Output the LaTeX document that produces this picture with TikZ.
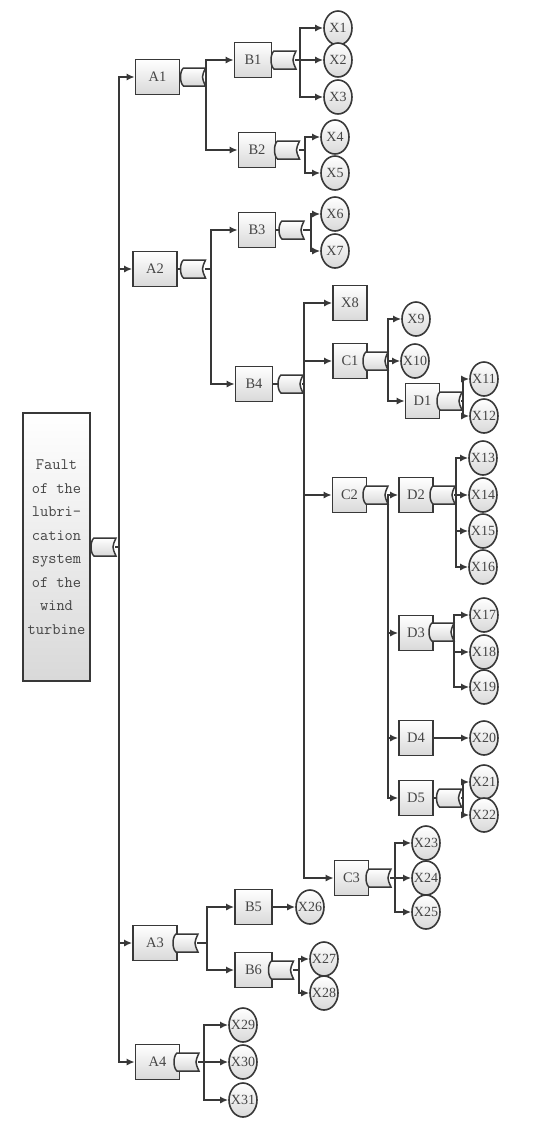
\documentclass[tikz,border=0pt]{standalone}
\usepackage{fontspec}
\setmainfont{Liberation Serif}
\usetikzlibrary{arrows.meta,shapes.geometric,calc}
\definecolor{lc}{HTML}{383838}
\definecolor{tx}{HTML}{454545}
\tikzset{
  lnst/.style={draw=lc, line width=1.6pt, line cap=rect},
  arr/.style={draw=lc, line width=1.6pt, -{Latex[length=8pt,width=7pt]}},
  shadefill/.style={top color=white, bottom color=black!15},
  box/.style={draw=lc, line width=1.6pt, shadefill, minimum height=35pt, inner sep=0pt,
              font=\fontsize{14.5}{14.5}\selectfont, text=tx},
  abox/.style={box, minimum width=44pt},
  bbox/.style={box, minimum width=37pt},
  cbox/.style={box, minimum width=34pt},
  xell/.style={ellipse, draw=lc, line width=1.6pt, shadefill, minimum width=28pt,
               minimum height=34pt, inner sep=0pt, font=\fontsize{14}{14}\selectfont, text=tx},
  rootbox/.style={draw=lc, line width=1.6pt, shadefill, minimum width=67pt, minimum height=268pt,
               inner sep=0pt, align=center, font=\fontsize{16}{23.5}\ttfamily, text=tx},
  gatenode/.style={inner sep=0pt, outer sep=0pt, minimum width=22pt, minimum height=18pt},
  gshade/.style={draw=lc, line width=1.5pt, shadefill}
}
\newcommand\xnode[3]{\node[xell] (#1) at (#2) {\makebox[0pt]{#3}};}
\newcommand\gnode[2]{\node[gatenode] (#1) at (#2) {};}
\newcommand\gshape[1]{\draw[gshade] (#1.north west) -- (#1.north east)
   .. controls ($(#1.east)+(-4,0)$) .. (#1.south east) -- (#1.south west)
   .. controls ($(#1.south west)+(-4,-3)$) and ($(#1.north west)+(-4,3)$) .. (#1.north west) -- cycle;}
\newcommand\hub[4]{\coordinate (bus#1) at (#2,0);
  \draw[lnst] (#1.east) -- (bus#1 |- #1.east);
  \draw[lnst] (bus#1 |- #3) -- (bus#1 |- #4);}
\newcommand\kids[2]{\foreach \k in {#2} {\draw[arr] (bus#1 |- \k) -- (\k.west);}}
\newcommand\feed[2]{\draw[lnst] (#1.east) -- (#2.west);}
\begin{document}
\begin{tikzpicture}[x=1pt,y=-1pt]
\useasboundingbox (0,0) rectangle (541,1133);
% root
\node[rootbox] (root) at (56.5,547) {Fault\\of the\\lubri-\\cation\\system\\of the\\wind\\turbine};
\gnode{g0}{105,547}
% A level
\node[abox] (A1) at (157.5,77) {A1};
\node[abox] (A2) at (155,269) {A2};
\node[abox] (A3) at (155,943) {A3};
\node[abox] (A4) at (157.5,1062) {A4};
\gnode{gA1}{194.5,77}
\gnode{gA2}{194.5,269}
\gnode{gA3}{187,943}
\gnode{gA4}{188,1062}
% B level
\node[bbox] (B1) at (253,60) {B1};
\node[bbox] (B2) at (257,150) {B2};
\node[bbox] (B3) at (257,230) {B3};
\node[bbox] (B4) at (254,384) {B4};
\node[bbox] (B5) at (253.5,907) {B5};
\node[bbox] (B6) at (253.5,970) {B6};
\gnode{gB1}{285,60}
\gnode{gB2}{288.5,150}
\gnode{gB3}{293,230}
\gnode{gB4}{292,384}
\gnode{gB6}{282.5,970}
% C level
\node[cbox] (X8) at (350,303) {X8};
\node[cbox] (C1) at (350,361) {C1};
\node[cbox] (C2) at (349.5,495) {C2};
\node[cbox] (C3) at (351.5,878) {C3};
\gnode{gC1}{377,361}
\gnode{gC2}{377,495}
\gnode{gC3}{380,878}
% D level
\node[cbox] (D1) at (422.5,401) {D1};
\node[cbox] (D2) at (416,495) {D2};
\node[cbox] (D3) at (416,633) {D3};
\node[cbox] (D4) at (416,738) {D4};
\node[cbox] (D5) at (416,798) {D5};
\gnode{gD1}{451,401}
\gnode{gD2}{444,495}
\gnode{gD3}{443,632}
\gnode{gD5}{450.5,798}
% X events
\xnode{X1}{338,28}{X1}
\xnode{X2}{338,60}{X2}
\xnode{X3}{338,97}{X3}
\xnode{X4}{335,137}{X4}
\xnode{X5}{335,173}{X5}
\xnode{X6}{335,214}{X6}
\xnode{X7}{335,251}{X7}
\xnode{X9}{416,319}{X9}
\xnode{X10}{415,361}{X10}
\xnode{X11}{484,379}{X11}
\xnode{X12}{484,416}{X12}
\xnode{X13}{483,458}{X13}
\xnode{X14}{483,495}{X14}
\xnode{X15}{483,531}{X15}
\xnode{X16}{483,567}{X16}
\xnode{X17}{484,615}{X17}
\xnode{X18}{484,652}{X18}
\xnode{X19}{484,687}{X19}
\xnode{X20}{484,738}{X20}
\xnode{X21}{484,782}{X21}
\xnode{X22}{484,815}{X22}
\xnode{X23}{426,843}{X23}
\xnode{X24}{426,878}{X24}
\xnode{X25}{426,912}{X25}
\xnode{X26}{310,907}{X26}
\xnode{X27}{324,959}{X27}
\xnode{X28}{324,993}{X28}
\xnode{X29}{243,1025}{X29}
\xnode{X30}{243,1062}{X30}
\xnode{X31}{243,1100}{X31}
% box to gate links
\feed{root}{g0}
\feed{A1}{gA1}\feed{A2}{gA2}\feed{A3}{gA3}\feed{A4}{gA4}
\feed{B1}{gB1}\feed{B2}{gB2}\feed{B3}{gB3}\feed{B4}{gB4}\feed{B6}{gB6}
\feed{C1}{gC1}\feed{C2}{gC2}\feed{C3}{gC3}
\feed{D1}{gD1}\feed{D2}{gD2}\feed{D3}{gD3}\feed{D5}{gD5}
% buses and branches
\hub{g0}{119}{A1}{A4}\kids{g0}{A1,A2,A3,A4}
\hub{gA1}{206}{B1}{B2}\kids{gA1}{B1,B2}
\hub{gB1}{300}{X1}{X3}\kids{gB1}{X1,X2,X3}
\hub{gB2}{305}{X4}{X5}\kids{gB2}{X4,X5}
\hub{gA2}{211}{B3}{B4}\kids{gA2}{B3,B4}
\hub{gB3}{311}{X6}{X7}\kids{gB3}{X6,X7}
\hub{gB4}{304}{X8}{C3}\kids{gB4}{X8,C1,C2,C3}
\hub{gC1}{388}{X9}{D1}\kids{gC1}{X9,X10,D1}
\hub{gD1}{463}{X11}{X12}\kids{gD1}{X11,X12}
\hub{gC2}{388}{D2}{D5}\kids{gC2}{D2,D3,D4,D5}
\hub{gD2}{456}{X13}{X16}\kids{gD2}{X13,X14,X15,X16}
\hub{gD3}{454}{X17}{X19}\kids{gD3}{X17,X18,X19}
\hub{gD5}{463}{X21}{X22}\kids{gD5}{X21,X22}
\hub{gC3}{395}{X23}{X25}\kids{gC3}{X23,X24,X25}
\hub{gA3}{207}{B5}{B6}\kids{gA3}{B5,B6}
\hub{gB6}{299}{X27}{X28}\kids{gB6}{X27,X28}
\hub{gA4}{204}{X29}{X31}\kids{gA4}{X29,X30,X31}
\draw[arr] (D4.east) -- (X20.west);
\draw[arr] (B5.east) -- (X26.west);
% gates on top
\foreach \g in {g0,gA1,gA2,gA3,gA4,gB1,gB2,gB3,gB4,gB6,gC1,gC2,gC3,gD1,gD2,gD3,gD5}{\gshape{\g}}
\end{tikzpicture}
\end{document}
